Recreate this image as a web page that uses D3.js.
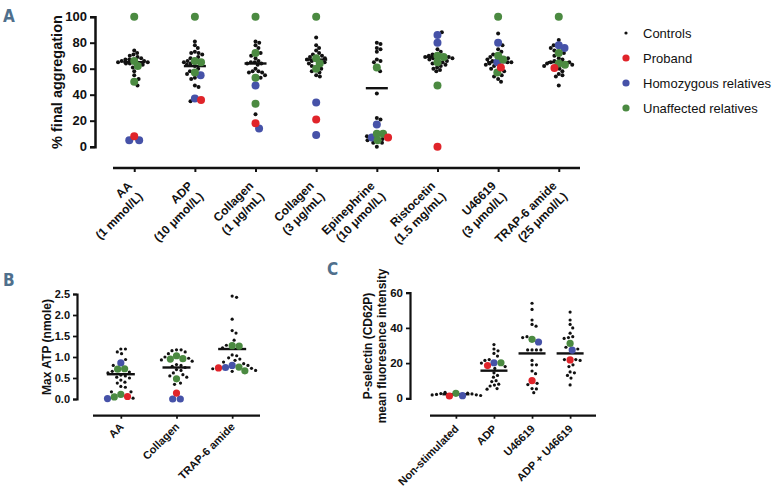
<!DOCTYPE html>
<html><head><meta charset="utf-8">
<script src="https://cdn.jsdelivr.net/npm/d3@7"></script>
<style>
body{margin:0;background:#fff}
svg{display:block}
text{font-family:"Liberation Sans",Arial,sans-serif;fill:#111}
</style>
</head><body>
<svg id="chart" width="774" height="488"></svg>
<script>
// ---------------- Panel A: % final aggregation ----------------
const aggCategories = [["AA","(1 mmol/L)"],["ADP","(10 μmol/L)"],["Collagen","(1 μg/mL)"],["Collagen","(3 μg/mL)"],["Epinephrine","(10 μmol/L)"],["Ristocetin","(1.5 mg/mL)"],["U46619","(3 μmol/L)"],["TRAP-6 amide","(25 μmol/L)"]];
const aggControls = [
  [74,72,71,70,69,68,67,67,66,66,65,65,64,64,63,61,58,55,52,47],
  [81,78,76,73,72,72,71,69,68,66,65,64,63,62,60,58,56,53,52,47,46,35],
  [81,80,78,76,72,70,68,66,65,65,64,64,63,60,58,58,57,57,55,53,25],
  [84,78,76,74,72,71,70,69,68,67,66,65,64,62,60,58,57,55,54],
  [80,79,76,75,73,67,66,65,58,41,22,21,8,6,5,3,3,0],
  [88,75,73,71,70,69,69,68,68,67,66,65,64,63,62,61,60,59,58],
  [87,78,75,73,71,69,68,67,66,65,65,64,63,62,60,58,55,54,52,50],
  [82,78,76,74,72,70,68,67,66,65,65,64,63,62,60,58,56,55,54,47]
];
const aggProband = [8,36,18,21,7,0,61,60.5];
const aggHomozygous = [[5,5],[55,37],[47,14],[34,9],[17,7],[86,80],[80,65],[78,76]];
const aggUnaffected = [[100,66,62,50],[100,66,65,57],[100,72,53,33],[100,68,64,60],[61,10,10,5],[70,69,65,47],[100,70,67,57],[100,72,64,63]];
const aggMeans = [65,62,64,67,45,69,65,65];
const aggTicks = [0,20,40,60,80,100];

// ---------------- Panel B: Max ATP ----------------
const atpCategories = ["AA","Collagen","TRAP-6 amide"];
const atpControls = [
  [1.19,1.19,1.12,1.08,0.94,0.80,0.66,0.64,0.62,0.57,0.55,0.52,0.50,0.45,0.40,0.38,0.30,0.28,0.17,0.17,0.02],
  [1.17,1.17,1.15,1.12,1.08,1.00,0.97,0.93,0.90,0.82,0.80,0.78,0.75,0.70,0.68,0.62,0.58,0.55,0.52,0.38,0.35],
  [2.45,2.42,1.90,1.63,1.57,1.40,1.28,1.22,1.05,1.03,0.98,0.95,0.92,0.88,0.84,0.80,0.73,0.72,0.68,0.66]
];
const atpProband = [0.06,0.14,0.74];
const atpHomozygous = [[0.86,0.01],[0.0,0.0],[0.75,0.80]];
const atpUnaffected = [[0.71,0.72,0.11,0.05],[1.03,0.96,0.95,0.48],[1.27,1.26,0.76,0.67]];
const atpMeans = [0.59,0.75,1.19];
const atpTicks = [0,0.5,1.0,1.5,2.0,2.5];

// ---------------- Panel C: P-selectin ----------------
const pselCategories = ["Non-stimulated","ADP","U46619","ADP + U46619"];
const pselControls = [
  [3.4,2.9,2.5,2.2,1.9,1.6,2.7,2.0],
  [30.5,28,27,25.5,24,22,21.5,20,18,17,14.5,13,12,10,9.5,8,7.5,7,5.5,5.2],
  [54,50.5,44.5,42,41,35,34.5,27.5,27.5,27.5,27.5,21.5,19,19,15.5,14,8.5,7.8,5.5,5.3,3.2],
  [49,44.5,42,40,37,35,34.5,34,29,28,22,22,21.5,19,18,15,14.5,13,11.5,7.6]
];
const pselProband = [1.3,18.6,10,21.8];
const pselHomozygous = [[1.5],[20.2],[32],[27.4]];
const pselUnaffected = [[2.8],[20.2],[33.5],[31.2]];
const pselMeans = [2.3,15.7,25.5,25.5];
const pselTicks = [0,20,40,60];

const legendLabels = ["Controls","Proband","Homozygous relatives","Unaffected relatives"];
const colors = {control:"#111111", proband:"#e0242a", homo:"#4652a8", unaff:"#4b8a41"};

const svg = d3.select("#chart");

function swarm(points, gap) {
  const placed = [];
  const order = points.slice().sort((a,b)=> (a.pri - b.pri) || (a.y - b.y));
  for (const p of order) {
    const cands = [0];
    for (const q of placed) {
      const dy = p.y - q.y, rr = p.cr + q.cr + gap;
      if (Math.abs(dy) < rr) {
        const dx = Math.sqrt(rr*rr - dy*dy);
        cands.push(q.dx + dx, q.dx - dx);
      }
    }
    cands.sort((a,b)=>Math.abs(a)-Math.abs(b));
    p.dx = 0;
    for (const c of cands) {
      const ok = placed.every(q => {
        const dy = p.y - q.y, dx = c - q.dx, rr = p.cr + q.cr + gap;
        return dx*dx + dy*dy >= rr*rr - 1e-6;
      });
      if (ok) { p.dx = c; break; }
    }
    placed.push(p);
  }
  return points;
}

function drawPanel(cfg) {
  const g = svg.append("g");
  const x = d3.scalePoint().domain(d3.range(cfg.cats.length)).range(cfg.xRange).padding(cfg.pad);
  const y = d3.scaleLinear().domain(cfg.yDomain).range(cfg.yRange);

  // y axis
  const ya = d3.axisLeft(y).tickValues(cfg.ticks).tickSize(cfg.tickLen).tickPadding(3).tickFormat(cfg.fmt);
  const yg = g.append("g").attr("transform",`translate(${cfg.yAxisX},0)`).call(ya);
  yg.select(".domain").attr("stroke","#111").attr("stroke-width",cfg.axisW);
  yg.selectAll(".tick line").attr("stroke","#111").attr("stroke-width",cfg.axisW*0.8);
  yg.selectAll("text").attr("font-weight","bold").attr("font-size",cfg.tickFont).attr("fill","#111")
    .style("font-family",'"Liberation Sans",Arial,sans-serif');

  // x axis
  const xa = d3.axisBottom(x).tickSize(cfg.xTickLen).tickFormat("");
  const xg = g.append("g").attr("transform",`translate(0,${cfg.xAxisY})`).call(xa);
  xg.select(".domain").attr("stroke","#111").attr("stroke-width",cfg.axisW).attr("d",`M${cfg.xRange[0]},0H${cfg.xRange[1]}`);
  xg.selectAll(".tick line").attr("stroke","#111").attr("stroke-width",cfg.axisW*0.8);

  // x labels
  cfg.cats.forEach((c,i)=>{
    const lines = Array.isArray(c) ? c : [c];
    const t = g.append("text")
      .attr("transform",`translate(${x(i)},${cfg.labelY}) rotate(-45)`)
      .attr("text-anchor","end").attr("font-weight","bold").attr("font-size",cfg.xFont);
    lines.forEach((l,j)=>{
      t.append("tspan").attr("x",0).attr("y",cfg.lineY[j]).text(l);
    });
  });

  // points
  cfg.cats.forEach((c,i)=>{
    const pts = [];
    cfg.controls[i].forEach(v=>pts.push({v, type:"control", r:cfg.rSmall, cr:cfg.crSmall, pri:1}));
    cfg.homo[i].forEach(v=>pts.push({v, type:"homo", r:cfg.rBig, cr:cfg.crBig, pri:0}));
    cfg.unaff[i].forEach(v=>pts.push({v, type:"unaff", r:cfg.rBig, cr:cfg.crBig, pri:0}));
    pts.push({v:cfg.proband[i], type:"proband", r:cfg.rBig, cr:cfg.crBig, pri:0});
    pts.forEach(p=>p.y = y(p.v));
    swarm(pts, cfg.gap);
    const cx = x(i);
    g.selectAll(null).data(pts.filter(p=>p.type==="control")).enter().append("circle")
      .attr("cx",p=>cx+p.dx).attr("cy",p=>p.y).attr("r",p=>p.r).attr("fill",colors.control);
    g.append("line").attr("x1",cx-cfg.meanW/2).attr("x2",cx+cfg.meanW/2)
      .attr("y1",y(cfg.means[i])).attr("y2",y(cfg.means[i]))
      .attr("stroke","#111").attr("stroke-width",cfg.meanStroke);
    g.selectAll(null).data(pts.filter(p=>p.type!=="control")).enter().append("circle")
      .attr("cx",p=>cx+p.dx).attr("cy",p=>p.y).attr("r",p=>p.r).attr("fill",p=>colors[p.type]);
  });

  // y label
  const yl = g.append("text").attr("transform",`translate(${cfg.yLabelX},${cfg.yLabelY}) rotate(-90)`)
    .attr("text-anchor","middle").attr("font-weight","bold").attr("font-size",cfg.yLabelFont);
  cfg.yLabel.forEach((l,j)=>yl.append("tspan").attr("x",0).attr("y",j*cfg.yLabelLH).text(l));

  // panel letter
  svg.append("text").attr("x",cfg.letterX).attr("y",cfg.letterY).text(cfg.letter)
    .attr("font-weight","bold").attr("font-size",17)
    .style("font-family",'"DejaVu Sans Condensed","DejaVu Sans",sans-serif')
    .attr("fill","#4f6f8c").style("fill","#4f6f8c");
}

drawPanel({
  cats: aggCategories, controls: aggControls, proband: aggProband, homo: aggHomozygous, unaff: aggUnaffected, means: aggMeans,
  ticks: aggTicks, fmt: d3.format("d"), yDomain:[0,100], yRange:[146.7,16.7],
  xRange:[113,580], pad:0.35, yAxisX:95, xAxisY:168, axisW:2.5, tickLen:5, xTickLen:4, tickFont:13,
  xFont:12, labelY:188, lineY:[-2,13],
  rSmall:2, rBig:4, crSmall:1.8, crBig:3.0, gap:0.3, meanW:22, meanStroke:2.4,
  yLabel:["% final aggregation"], yLabelX:62, yLabelY:82, yLabelFont:14.5, yLabelLH:0,
  letter:"A", letterX:3, letterY:22
});

drawPanel({
  cats: atpCategories, controls: atpControls, proband: atpProband, homo: atpHomozygous, unaff: atpUnaffected, means: atpMeans,
  ticks: atpTicks, fmt: d3.format(".1f"), yDomain:[0,2.5], yRange:[399,294],
  xRange:[93,260], pad:0.5, yAxisX:77, xAxisY:415.7, axisW:2.2, tickLen:4, xTickLen:3, tickFont:11,
  xFont:11, labelY:424, lineY:[5],
  rSmall:1.6, rBig:3.6, crSmall:2.0, crBig:3.2, gap:0.6, meanW:28, meanStroke:2.4,
  yLabel:["Max ATP (nmole)"], yLabelX:51, yLabelY:347, yLabelFont:12, yLabelLH:0,
  letter:"B", letterX:3, letterY:286
});

drawPanel({
  cats: pselCategories, controls: pselControls, proband: pselProband, homo: pselHomozygous, unaff: pselUnaffected, means: pselMeans,
  ticks: pselTicks, fmt: d3.format("d"), yDomain:[0,60], yRange:[398.3,292.7],
  xRange:[430,596], pad:0.68, yAxisX:410, xAxisY:415.7, axisW:2.2, tickLen:4, xTickLen:3, tickFont:11.5,
  xFont:11, labelY:426, lineY:[5],
  rSmall:1.6, rBig:3.6, crSmall:1.9, crBig:3.2, gap:0.6, meanW:27, meanStroke:2.4,
  yLabel:["P-selectin (CD62P)","mean fluoresence intensity"], yLabelX:372, yLabelY:346, yLabelFont:12, yLabelLH:14,
  letter:"C", letterX:327, letterY:275
});

// legend
const legend = svg.append("g");
const legTypes = ["control","proband","homo","unaff"];
legendLabels.forEach((l,i)=>{
  const yy = 33 + i*25;
  legend.append("circle").attr("cx",626).attr("cy",yy).attr("r", i===0?1.6:3.6).attr("fill",colors[legTypes[i]]);
  legend.append("text").attr("x",643).attr("y",yy+4.5).attr("font-size",13).attr("fill","#222").text(l);
});
</script>
</body></html>
